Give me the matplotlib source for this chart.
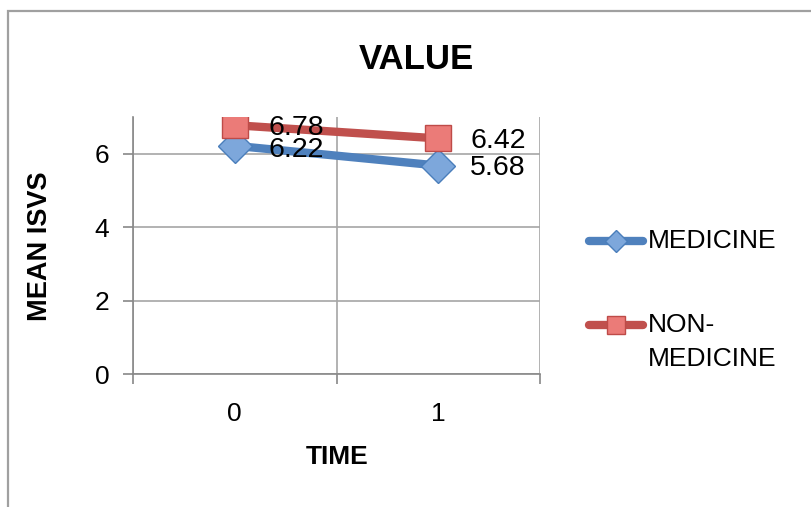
import matplotlib.pyplot as plt
from matplotlib.lines import Line2D
from matplotlib.patches import Rectangle

plt.rcParams['font.family'] = ['Liberation Sans', 'DejaVu Sans']

times = [0, 1]
medicine = [6.22, 5.68]
non_medicine = [6.78, 6.42]
series_names = ['MEDICINE', 'NON-\nMEDICINE']

blue_line, blue_mark, blue_edge = '#4F81BD', '#7DA7DB', '#4A7EBB'
red_line, red_mark, red_edge = '#C0504D', '#EB7B78', '#BE4B48'

fig = plt.figure(figsize=(8.11, 5.07), dpi=100)
ax = fig.add_axes([0.164, 0.262, 0.502, 0.507])

# chart frame (cut off on the right and bottom)
fig.patches.append(Rectangle((8 / 811, -0.1), 1.2, 1 - 11 / 507 + 0.1,
                             transform=fig.transFigure, fill=False,
                             edgecolor='#A0A0A0', linewidth=1.6))

ax.plot(times, medicine, color=blue_line, linewidth=6, marker='D',
        markersize=17, markerfacecolor=blue_mark, markeredgecolor=blue_edge,
        markeredgewidth=1, solid_capstyle='round', zorder=3)
ax.plot(times, non_medicine, color=red_line, linewidth=6, marker='s',
        markersize=19, markerfacecolor=red_mark, markeredgecolor=red_edge,
        markeredgewidth=1, solid_capstyle='round', zorder=4)

# (medicine, non-medicine) vertical label offsets in points
label_dy = {0: (-3, -2), 1: (-2, -2)}
label_dx = {0: 24, 1: 23}
for i, (x, y) in enumerate(zip(times, medicine)):
    ax.annotate(f'{y:.2f}', (x, y), xytext=(label_dx[i], label_dy[i][0]),
                textcoords='offset points', ha='left', va='center',
                fontsize=20.5, zorder=5)
for i, (x, y) in enumerate(zip(times, non_medicine)):
    ax.annotate(f'{y:.2f}', (x, y), xytext=(label_dx[i], label_dy[i][1]),
                textcoords='offset points', ha='left', va='center',
                fontsize=20.5, zorder=5)

ax.set_xlim(-0.5, 1.5)
ax.set_ylim(0, 7)
ax.set_yticks([0, 2, 4, 6])
ax.set_xticks(times)
ax.set_xticks([-0.5, 0.5, 1.5], minor=True)
ax.tick_params(axis='x', which='major', length=0, labelsize=19, pad=20)
ax.tick_params(axis='x', which='minor', length=7, color='#888888', width=1.2)
ax.tick_params(axis='y', length=7, color='#888888', width=1.2, labelsize=19, pad=10)
ax.grid(True, axis='y', color='#A6A6A6', linewidth=1.2)
ax.grid(True, axis='x', which='minor', color='#A6A6A6', linewidth=1.2)
for side in ['top', 'right']:
    ax.spines[side].set_visible(False)
for side in ['left', 'bottom']:
    ax.spines[side].set_color('#888888')
    ax.spines[side].set_linewidth(1.2)

fig.text(416 / 811, 1 - 60 / 507, 'VALUE', fontsize=25, fontweight='bold',
         ha='center', va='center')
fig.text(337 / 811, 1 - 457 / 507, 'TIME', fontsize=19, fontweight='bold',
         ha='center', va='center')
fig.text(40 / 811, 1 - 246 / 507, 'MEAN ISVS', fontsize=19.5, fontweight='bold',
         ha='center', va='center', rotation=90)

# legend entries, handle level with the first text line
legend_rows = [
    (241, blue_line, 'D', 11, blue_mark, blue_edge),
    (325, red_line, 's', 13, red_mark, red_edge),
]
for name, (ypix, lc, mk, ms, mf, me) in zip(series_names, legend_rows):
    yf = 1 - ypix / 507
    fig.add_artist(Line2D([589 / 811, 643 / 811], [yf, yf], color=lc, linewidth=6,
                          solid_capstyle='round', transform=fig.transFigure))
    fig.add_artist(Line2D([616 / 811], [yf], marker=mk, markersize=ms,
                          markerfacecolor=mf, markeredgecolor=me,
                          transform=fig.transFigure))
    fig.text(648 / 811, yf + 12 / 507, name, fontsize=19, ha='left', va='top',
             linespacing=1.55)

fig.savefig('out.png', dpi=100)
